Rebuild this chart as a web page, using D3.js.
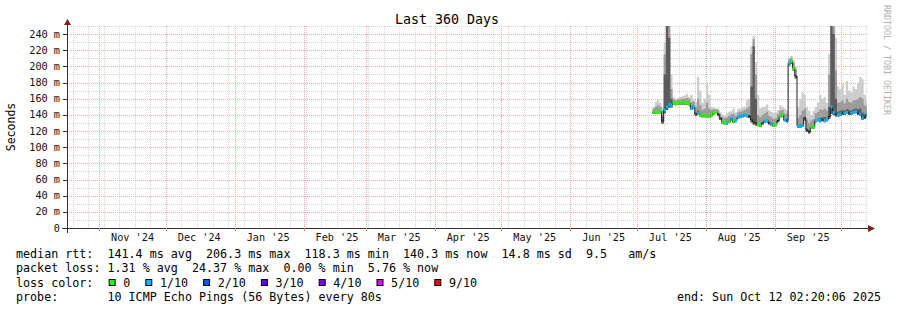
<!DOCTYPE html>
<html>
<head>
<meta charset="utf-8">
<script src="https://cdn.jsdelivr.net/npm/d3@7"></script>
<style>
	body { margin: 0; background: #fff; }
	svg text { font-family: "DejaVu Sans Mono", monospace; white-space: pre; }
</style>
</head>
<body>
<div id="smoke-chart"></div>
<script>

// one sample per day, starting Jul 8 2025 (values in ms)
const firstDay = new Date(Date.UTC(2025, 6, 8));

const median = [143,143,143,144,132,146,150,153,152,155, 154,155,155,155,155,155,154,148,150,141,
	142,140,139,139,138,138,140,142,143,141, 136,131,130,130,132,135,132,133,137,138,
	139,140,139,138,134,131,130,128,127,130, 132,133,130,129,127,128,133,138,140,134,
	133,204,206,198,188,126,126,127,136,121, 119,125,125,133,134,133,134,133,134,138,
	150,143,141,140,141,142,142,143,142,142, 143,144,142,141,136,137,140];

// lost pings out of 10 (null = no loss band drawn)
const loss = [0,0,0,0,null,1,1,1,1,0, 0,0,0,0,0,0,0,1,1,null,
	1,0,0,0,0,0,0,0,0,null, null,0,0,1,0,1,0,1,1,1,
	1,1,1,null,null,null,null,0,0,null, 1,1,null,1,0,0,null,0,0,1,
	2,1,0,0,null,1,1,1,null,null, null,0,0,1,1,1,null,1,1,null,
	1,1,null,1,1,null,1,1,null,1, 1,1,null,1,1,null,1];

const smokeLo = [141,141,141,142,129,142,146,149,149,153, 152,153,153,153,153,153,152,146,148,139,
	140,138,137,137,136,136,138,140,141,139, 134,129,128,128,130,133,130,131,135,136,
	137,138,137,136,131,128,127,126,125,128, 130,131,128,127,125,126,131,136,138,132,
	131,201,203,195,185,124,124,125,133,119, 117,123,123,131,132,131,132,131,132,135,
	141,140,138,138,139,140,140,141,140,140, 141,142,140,139,134,135,138];

const smokeCore = [144,144,144,145,138,190,250,235,160,156, 155,156,156,156,156,156,155,150,151,143,
	145,142,140,140,140,139,141,143,144,142, 137,132,131,131,133,136,133,134,138,139,
	140,141,141,140,175,225,160,129,128,131, 133,134,131,130,128,129,134,139,141,135,
	134,205,207,199,189,127,128,129,138,123, 121,126,126,135,136,136,137,137,136,150,
	255,240,160,144,145,146,145,147,146,145, 147,148,147,148,143,141,142];

const smokeMid = [148,150,152,150,145,215,260,255,172,159, 158,159,159,160,160,161,160,156,157,150,
	160,152,146,148,155,148,146,147,147,146, 141,137,136,137,139,141,141,139,143,144,
	145,146,148,150,215,234,190,140,137,140, 142,144,139,137,135,136,141,145,146,142,
	141,209,211,205,196,136,140,145,148,134, 130,133,135,142,144,147,146,148,145,190,
	260,255,195,155,156,158,154,160,156,155, 158,158,160,162,160,152,150];

const smokeHi = [150,156,158,155,150,230,260,260,190,162, 160,161,162,163,164,166,162,165,160,156,
	187,170,155,160,179,165,150,149,148,148, 144,140,139,142,144,145,148,143,147,148,
	149,150,158,160,225,238,205,165,148,150, 150,153,146,144,142,143,146,152,150,148,
	146,211,213,208,200,150,160,168,165,150, 145,140,145,150,155,165,160,162,155,215,
	260,260,235,175,172,178,165,182,170,168, 175,172,180,187,184,165,158];

const yTicks = [0, 20, 40, 60, 80, 100, 120, 140, 160, 180, 200, 220, 240];
const monthLabels = ["Nov '24", "Dec '24", "Jan '25", "Feb '25", "Mar '25", "Apr '25",
	"May '25", "Jun '25", "Jul '25", "Aug '25", "Sep '25"];

const lossThresholds = [0, 1, 2, 3, 4, 5, 9];
const lossLabels = ["0", "1/10", "2/10", "3/10", "4/10", "5/10", "9/10"];
const lossColors = ["#26ff00", "#00b8ff", "#0059ff", "#5e00ff", "#7e00ff", "#dd00ff", "#ff0000"];

const rttStats = [141.4, 206.3, 118.3, 140.3];   // avg, max, min, now
const rttSd = 14.8;
const rttAmS = 9.5;
const lossStats = [1.31, 24.37, 0.00, 5.76];     // avg, max, min, now


class SmokeVis {

	constructor(parentElement) {
		this.parentElement = parentElement;
		this.displayData = null;
		this.initVis();
	}

	initVis() {
		let vis = this;

		vis.width = 897;
		vis.height = 310;
		vis.plot = { left: 67, top: 26, right: 867, bottom: 228 };

		vis.svg = d3.select("#" + vis.parentElement).append("svg")
			.attr("width", vis.width)
			.attr("height", vis.height)
			.style("display", "block");

		vis.svg.append("rect")
			.attr("width", vis.width)
			.attr("height", vis.height)
			.attr("fill", "#fff");

		vis.start = new Date(Date.UTC(2024, 9, 17, 12));
		vis.end = new Date(Date.UTC(2025, 9, 12, 12));

		vis.x = d3.scaleUtc()
			.domain([vis.start, vis.end])
			.range([vis.plot.left, vis.plot.right]);

		vis.y = d3.scaleLinear()
			.domain([0, 250])
			.range([vis.plot.bottom, vis.plot.top]);

		vis.svg.append("clipPath")
			.attr("id", "plot-clip")
			.append("rect")
			.attr("x", vis.plot.left)
			.attr("y", vis.plot.top)
			.attr("width", vis.plot.right - vis.plot.left)
			.attr("height", vis.plot.bottom - vis.plot.top);

		vis.wrangleData();
	}

	wrangleData() {
		let vis = this;

		vis.displayData = median.map((m, i) => ({
			t: d3.utcDay.offset(firstDay, i),
			t1: d3.utcDay.offset(firstDay, i + 1),
			median: m,
			loss: loss[i],
			lo: smokeLo[i],
			core: smokeCore[i],
			mid: smokeMid[i],
			hi: smokeHi[i]
		}));

		// step curves need a closing point
		let last = vis.displayData[vis.displayData.length - 1];
		vis.stepData = vis.displayData.concat([Object.assign({}, last, { t: last.t1 })]);

		vis.updateVis();
	}

	updateVis() {
		let vis = this;
		let p = vis.plot;

		// grid
		let grid = vis.svg.append("g");
		let minorY = vis.y.ticks(25).filter(v => v % 20 !== 0);
		let weeks = d3.utcSunday.range(vis.start, vis.end);
		let months = d3.utcMonth.range(vis.start, vis.end);

		grid.selectAll(".hminor").data(minorY).enter().append("line")
			.attr("x1", p.left).attr("x2", p.right)
			.attr("y1", d => Math.round(vis.y(d)) + 0.5).attr("y2", d => Math.round(vis.y(d)) + 0.5)
			.attr("stroke", "#d4d4d4").attr("stroke-dasharray", "1,1");

		grid.selectAll(".vminor").data(weeks).enter().append("line")
			.attr("x1", d => Math.round(vis.x(d)) + 0.5).attr("x2", d => Math.round(vis.x(d)) + 0.5)
			.attr("y1", p.top).attr("y2", p.bottom)
			.attr("stroke", "#d4d4d4").attr("stroke-dasharray", "1,1");

		grid.selectAll(".hmajor").data(yTicks.filter(v => v > 0)).enter().append("line")
			.attr("x1", p.left).attr("x2", p.right)
			.attr("y1", d => Math.round(vis.y(d)) + 0.5).attr("y2", d => Math.round(vis.y(d)) + 0.5)
			.attr("stroke", "#f2a6a6").attr("stroke-dasharray", "1,1");

		grid.selectAll(".vmajor").data(months).enter().append("line")
			.attr("x1", d => Math.round(vis.x(d)) + 0.5).attr("x2", d => Math.round(vis.x(d)) + 0.5)
			.attr("y1", p.top).attr("y2", p.bottom)
			.attr("stroke", "#f2a6a6").attr("stroke-dasharray", "1,1");

		// smoke
		let plotG = vis.svg.append("g").attr("clip-path", "url(#plot-clip)");

		let smokeArea = key => d3.area()
			.curve(d3.curveStepAfter)
			.x(d => vis.x(d.t))
			.y0(d => vis.y(d.lo))
			.y1(d => vis.y(d[key]));

		plotG.append("path").datum(vis.stepData)
			.attr("d", smokeArea("hi")).attr("fill", "#cdcdcd");
		plotG.append("path").datum(vis.stepData)
			.attr("d", smokeArea("mid")).attr("fill", "#9c9c9c");
		plotG.append("path").datum(vis.stepData)
			.attr("d", smokeArea("core")).attr("fill", "#5c5c5c");

		// median line
		plotG.append("path").datum(vis.stepData)
			.attr("d", d3.line().curve(d3.curveStepAfter)
				.x(d => vis.x(d.t))
				.y(d => vis.y(d.median)))
			.attr("fill", "none")
			.attr("stroke", "#202020")
			.attr("stroke-width", 1);

		// loss colour bands around the median
		let bucket = l => lossThresholds.findIndex(t => l <= t);
		plotG.selectAll(".lossband")
			.data(vis.displayData.filter(d => d.loss !== null))
			.enter().append("rect")
			.attr("x", d => vis.x(d.t))
			.attr("width", d => vis.x(d.t1) - vis.x(d.t))
			.attr("y", d => vis.y(d.median) - 1.5)
			.attr("height", 3)
			.attr("fill", d => lossColors[bucket(d.loss)]);

		// axes
		let axis = vis.svg.append("g");
		axis.append("line")
			.attr("x1", p.left - 5).attr("x2", p.right + 1)
			.attr("y1", p.bottom + 0.5).attr("y2", p.bottom + 0.5)
			.attr("stroke", "#333");
		axis.append("line")
			.attr("x1", p.left + 0.5).attr("x2", p.left + 0.5)
			.attr("y1", p.bottom + 5).attr("y2", p.top - 3)
			.attr("stroke", "#333");

		axis.selectAll(".ytick").data(yTicks).enter().append("line")
			.attr("x1", p.left - 4).attr("x2", p.left)
			.attr("y1", d => Math.round(vis.y(d)) + 0.5).attr("y2", d => Math.round(vis.y(d)) + 0.5)
			.attr("stroke", "#333");

		axis.selectAll(".xtick").data(months).enter().append("line")
			.attr("x1", d => Math.round(vis.x(d)) + 0.5).attr("x2", d => Math.round(vis.x(d)) + 0.5)
			.attr("y1", p.bottom).attr("y2", p.bottom + 3)
			.attr("stroke", "#e08080");

		axis.append("path")
			.attr("d", `M${p.right + 1},${p.bottom - 3} L${p.right + 8},${p.bottom + 0.5} L${p.right + 1},${p.bottom + 4} Z`)
			.attr("fill", "#7f1d1d");
		axis.append("path")
			.attr("d", `M${p.left - 3},${p.top - 1} L${p.left + 0.5},${p.top - 7} L${p.left + 4},${p.top - 1} Z`)
			.attr("fill", "#7f1d1d");

		// tick labels
		vis.svg.selectAll(".ylabel").data(yTicks).enter().append("text")
			.attr("x", 60)
			.attr("y", d => vis.y(d) + 3.5)
			.attr("text-anchor", "end")
			.attr("font-size", "10.2px")
			.attr("fill", "#111")
			.text(d => d === 0 ? "0" : d + " m");

		vis.svg.selectAll(".xlabel").data(monthLabels).enter().append("text")
			.attr("x", (d, i) => vis.x(d3.utcDay.offset(months[i], 15)))
			.attr("y", 241)
			.attr("text-anchor", "middle")
			.attr("font-size", "10.2px")
			.attr("fill", "#111")
			.text(d => d);

		// title and axis caption
		vis.svg.append("text")
			.attr("x", 447).attr("y", 24)
			.attr("text-anchor", "middle")
			.attr("font-size", "13.3px")
			.attr("fill", "#000")
			.text("Last 360 Days");

		vis.svg.append("text")
			.attr("transform", "translate(15,127) rotate(-90)")
			.attr("text-anchor", "middle")
			.attr("font-size", "11.5px")
			.attr("fill", "#000")
			.text("Seconds");

		vis.svg.append("text")
			.attr("transform", "translate(884,5) rotate(90)")
			.attr("font-size", "8.3px")
			.attr("fill", "#b0b0b0")
			.text("RRDTOOL / TOBI OETIKER");

		// legend
		let charW = 7.05;
		let legend = vis.svg.append("g")
			.attr("font-size", "11.7px")
			.attr("fill", "#000");

		let f = (v, n) => v.toFixed(n);
		let row1 = "median rtt:  " + f(rttStats[0], 1) + " ms avg  " + f(rttStats[1], 1) + " ms max  "
			+ f(rttStats[2], 1) + " ms min  " + f(rttStats[3], 1) + " ms now  " + f(rttSd, 1) + " ms sd  "
			+ f(rttAmS, 1) + "   am/s";
		let row2 = "packet loss: " + f(lossStats[0], 2) + " % avg  " + f(lossStats[1], 2) + " % max  "
			+ f(lossStats[2], 2) + " % min  " + f(lossStats[3], 2) + " % now";

		legend.append("text").attr("x", 16).attr("y", 258).text(row1);
		legend.append("text").attr("x", 16).attr("y", 272).text(row2);
		legend.append("text").attr("x", 16).attr("y", 286.5).text("loss color:");
		legend.append("text").attr("x", 16).attr("y", 300.5)
			.text("probe:       10 ICMP Echo Pings (56 Bytes) every 80s");
		legend.append("text").attr("x", 881).attr("y", 300.5)
			.attr("text-anchor", "end")
			.text("end: Sun Oct 12 02:20:06 2025");

		let bx = 16 + 13 * charW + 1;
		lossLabels.forEach((lab, i) => {
			legend.append("rect")
				.attr("x", bx + 0.5).attr("y", 279.5)
				.attr("width", 6).attr("height", 6)
				.attr("fill", lossColors[i])
				.attr("stroke", "#000");
			legend.append("text")
				.attr("x", bx + 14.6).attr("y", 286.5)
				.text(lab);
			bx = bx + 14.6 + lab.length * charW + 15;
		});
	}
}

let smokeVis = new SmokeVis("smoke-chart");

</script>
</body>
</html>
